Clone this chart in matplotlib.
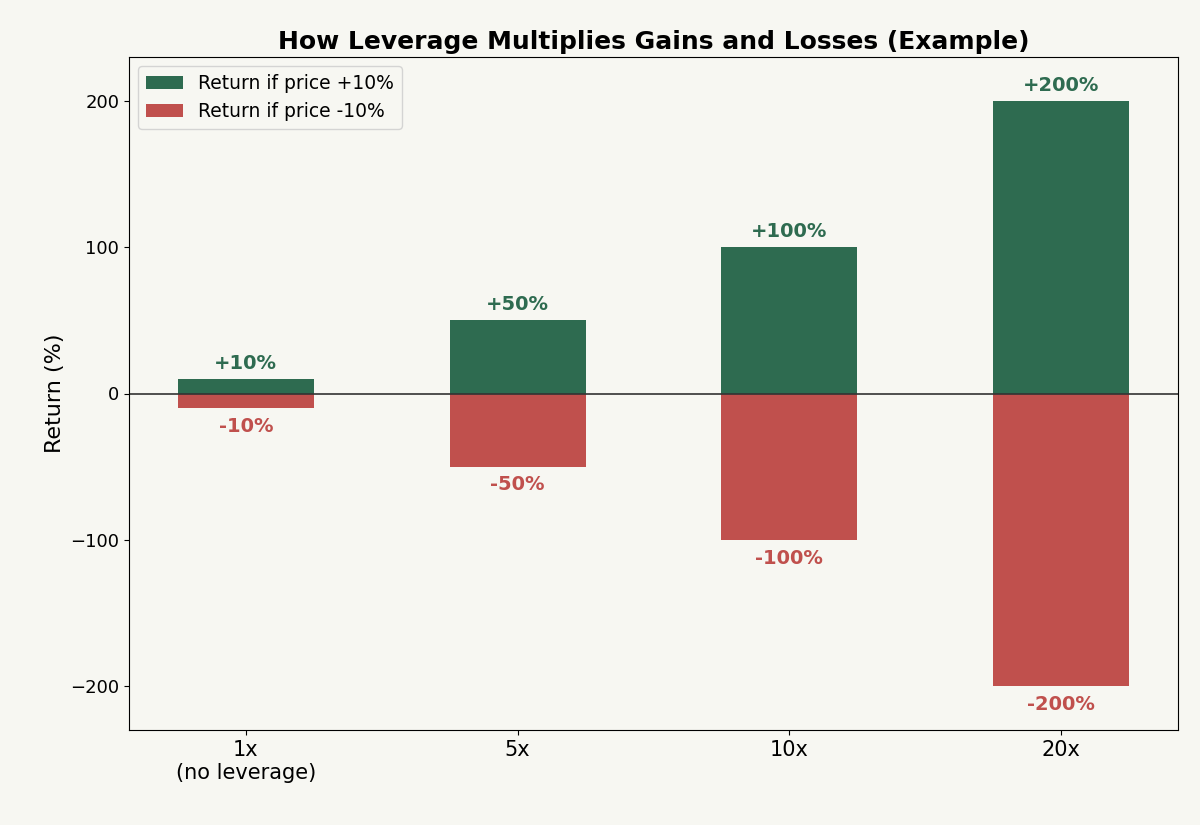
import matplotlib
matplotlib.use("Agg")
import matplotlib.pyplot as plt

categories = ["1x\n(no leverage)", "5x", "10x", "20x"]
gains = [10, 50, 100, 200]
losses = [-10, -50, -100, -200]

bg = "#f7f7f2"
green = "#2e6b50"
red = "#c0504d"

fig = plt.figure(figsize=(12, 8.25), dpi=100, facecolor=bg)
ax = fig.add_axes([129/1200, 1-730/825, (1178-129)/1200, (730-57)/825])
ax.set_facecolor(bg)
x = range(len(categories))
ax.bar(x, gains, width=0.5, color=green, label="Return if price +10%")
ax.bar(x, losses, width=0.5, color=red, label="Return if price -10%")
for i, (g, l) in enumerate(zip(gains, losses)):
    ax.text(i, g + 4, f"+{g}%", ha="center", va="bottom", color=green, fontsize=14, fontweight="bold")
    ax.text(i, l - 6, f"{l}%", ha="center", va="top", color=red, fontsize=14, fontweight="bold")
ax.axhline(0, color="#333333", linewidth=1.2)
ax.set_xticks(list(x))
ax.set_xticklabels(categories, fontsize=15)
ax.tick_params(axis="y", labelsize=13)
ax.set_ylim(-230, 230)
ax.set_xlim(-0.43, 3.43)
ax.set_yticks([-200, -100, 0, 100, 200])
ax.set_ylabel("Return (%)", fontsize=16)
ax.set_title("How Leverage Multiplies Gains and Losses (Example)", fontsize=18, fontweight="bold")
ax.legend(loc="upper left", fontsize=13.5, facecolor=bg)
fig.savefig("out.png", dpi=100, facecolor=bg)
